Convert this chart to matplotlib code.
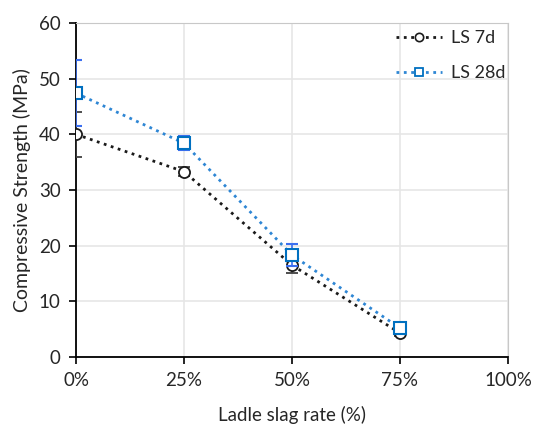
import matplotlib
matplotlib.use("Agg")
import matplotlib.pyplot as plt
from matplotlib.ticker import PercentFormatter
from matplotlib.lines import Line2D

plt.rcParams['font.family'] = ['Lato', 'DejaVu Sans']

x = [0, 25, 50, 75]
ls7 = [40.0, 33.3, 16.5, 4.3]
ls7_err = [4.0, 0.8, 1.4, 0.5]
ls28 = [47.4, 38.4, 18.3, 5.2]
ls28_err = [5.9, 1.3, 2.0, 0.6]

fig = plt.figure(figsize=(5.33, 4.26), dpi=100)
ax = fig.add_axes([76 / 533, 1 - 357 / 426, 432 / 533, 334 / 426])

ax.errorbar(x, ls7, yerr=ls7_err, fmt='o', linestyle=':', color='#1a1a1a', lw=2,
            mfc='white', mec='#1a1a1a', ms=8, mew=1.3, ecolor='#404040', elinewidth=1.2,
            capsize=4, zorder=3)
ax.errorbar(x, ls28, yerr=ls28_err, fmt='s', linestyle=':', color='#2E86D4', lw=2,
            mfc='white', mec='#0070C0', ms=8, mew=1.5, ecolor='#3B6FF0', elinewidth=1.2,
            capsize=4, zorder=4)

ax.set_xlim(0, 100)
ax.set_ylim(0, 60)
ax.set_xticks([0, 25, 50, 75, 100])
ax.xaxis.set_major_formatter(PercentFormatter(decimals=0))
ax.set_yticks(range(0, 61, 10))
ax.grid(True, color='#e6e6e6', lw=1.2)
ax.set_axisbelow(True)
for s in ['top', 'right']:
    ax.spines[s].set_color('#c8c8c8')
for s in ['left', 'bottom']:
    ax.spines[s].set_color('black')
    ax.spines[s].set_linewidth(1.3)
ax.tick_params(axis='both', direction='out', length=5, width=1.2, labelsize=13.5,
               colors='black', labelcolor='#262626', pad=6)
ax.set_xlabel('Ladle slag rate (%)', fontsize=13.5, labelpad=12, color='#262626')
ax.set_ylabel('Compressive Strength (MPa)', fontsize=14, labelpad=6, color='#262626')

handles = [
    Line2D([], [], linestyle=':', color='#1a1a1a', lw=2, marker='o', mfc='white',
           mec='#1a1a1a', ms=6, mew=1.2),
    Line2D([], [], linestyle=':', color='#2E86D4', lw=2, marker='s', mfc='white',
           mec='#0070C0', ms=6, mew=1.3),
]
ax.legend(handles, ['LS 7d', 'LS 28d'], loc='upper right', bbox_to_anchor=(0.995, 0.978),
          frameon=False, fontsize=13, handlelength=2.5, handletextpad=0.55,
          borderpad=0, borderaxespad=0, labelspacing=1.05, labelcolor='#262626')

fig.savefig('out.png', dpi=100)
